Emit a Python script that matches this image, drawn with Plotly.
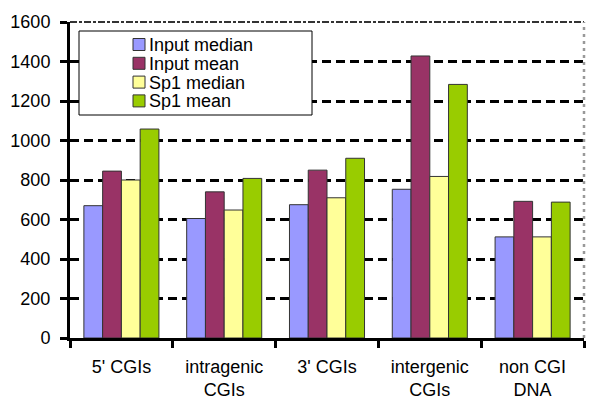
import plotly.graph_objects as go

categories = ["5' CGIs", "intragenic<br>CGIs", "3' CGIs", "intergenic<br>CGIs", "non CGI<br>DNA"]
series_names = ["Input median", "Input mean", "Sp1 median", "Sp1 mean"]
input_median = [670, 605, 675, 753, 512]
input_mean = [845, 740, 850, 1428, 692]
sp1_median = [800, 648, 710, 818, 512]
sp1_mean = [1058, 808, 910, 1284, 688]
y_ticks = [0, 200, 400, 600, 800, 1000, 1200, 1400, 1600]

colors = ["#9999FF", "#993366", "#FFFF99", "#99CC00"]
values = [input_median, input_mean, sp1_median, sp1_mean]

FONT = "Liberation Sans, Arial, sans-serif"
W, H = 600, 413
ML, MR, MT, MB = 70, 16, 22, 75
PW, PH = W - ML - MR, H - MT - MB

def px_x(px):
    return (px - ML) / PW

def px_y(py):
    return (H - MB - py) / PH

fig = go.Figure()
for name, vals, col in zip(series_names, values, colors):
    fig.add_trace(go.Bar(
        x=categories, y=vals, name=name,
        marker=dict(color=col, line=dict(color="#333333", width=1)),
    ))

shapes = [
    # top border (mottled dash-dot)
    dict(type="line", xref="paper", yref="paper", x0=0, x1=1, y0=1, y1=1,
         line=dict(color="white", width=3), layer="above"),
    dict(type="line", xref="paper", yref="paper", x0=0, x1=1, y0=1, y1=1,
         line=dict(color="#333333", width=2, dash="7px,2px,3px,2px"), layer="above"),
    # right border (dotted)
    dict(type="line", xref="paper", yref="paper", x0=1, x1=1, y0=0, y1=1,
         line=dict(color="#999999", width=2.5, dash="3px,4px"), layer="above"),
    # legend box
    dict(type="rect", xref="paper", yref="paper",
         x0=px_x(79), x1=px_x(312), y0=px_y(115), y1=px_y(31),
         line=dict(color="black", width=1), fillcolor="white", layer="above"),
]
annotations = []
legend_top = 44.5
legend_step = 18.8
for i, (name, col) in enumerate(zip(series_names, colors)):
    cy = legend_top + i * legend_step
    shapes.append(dict(type="rect", xref="paper", yref="paper",
                       x0=px_x(133), x1=px_x(145), y0=px_y(cy + 6), y1=px_y(cy - 6),
                       line=dict(color="#333333", width=1), fillcolor=col, layer="above"))
    annotations.append(dict(xref="paper", yref="paper", x=px_x(148), y=px_y(cy + 0.5),
                            xanchor="left", yanchor="middle", showarrow=False,
                            height=18, valign="middle", borderpad=0,
                            text=name, font=dict(family=FONT, size=18, color="black")))

fig.update_layout(
    width=W, height=H,
    margin=dict(l=ML, r=MR, t=MT, b=MB, autoexpand=False),
    paper_bgcolor="white", plot_bgcolor="white",
    barmode="group", bargap=0.27, bargroupgap=0,
    font=dict(family=FONT, size=18, color="black"),
    showlegend=False,
    xaxis=dict(
        automargin=False,
        showline=True, linecolor="black", linewidth=3,
        ticks="outside", tickson="boundaries", ticklen=7, tickwidth=3, tickcolor="black",
        ticklabelstandoff=10,
        tickfont=dict(family=FONT, size=18, color="black"),
        showgrid=False,
    ),
    yaxis=dict(
        automargin=False,
        range=[0, 1600], tickvals=y_ticks,
        showline=True, linecolor="black", linewidth=3,
        ticks="outside", ticklen=7, tickwidth=3, tickcolor="black",
        ticklabelstandoff=6,
        tickfont=dict(family=FONT, size=18, color="black"),
        showgrid=True, gridcolor="black", gridwidth=2.5, griddash="9px,5px",
        zeroline=False,
    ),
    shapes=shapes,
    annotations=annotations,
)

fig.write_html("out.html", config={"displayModeBar": False},
               post_script="document.body.style.margin='0';")
